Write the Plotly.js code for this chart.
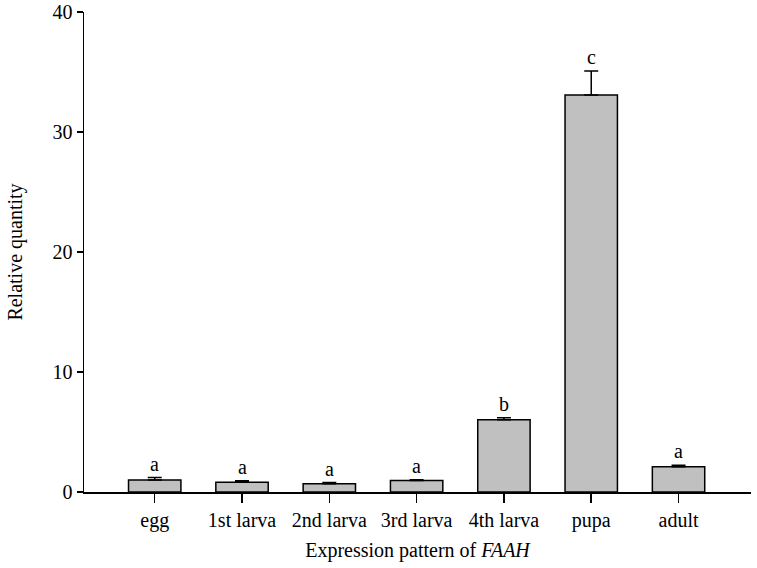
<!DOCTYPE html>
<html><head><meta charset="utf-8">
<script src="https://cdn.plot.ly/plotly-3.0.1.min.js"></script>
<style>body{margin:0;background:#fff}#chart{width:757px;height:568px}</style>
</head><body><div id="chart"></div>
<script>
const categories = ["egg","1st larva","2nd larva","3rd larva","4th larva","pupa","adult"];
const values = [1.0, 0.81, 0.69, 0.95, 6.03, 33.08, 2.11];
const errors = [0.2, 0.13, 0.1, 0.08, 0.16, 2.0, 0.11];
const letters = ["a","a","a","a","b","c","a"];

const font = "Liberation Serif, serif";
const fs = 20;
const trace = {
  type: "bar", x: categories, y: values, width: 0.6,
  marker: {color: "#c0c0c0", line: {color: "#000", width: 1.5}},
  error_y: {type: "data", array: errors, arrayminus: errors.map(() => 0), symmetric: false,
            color: "#000", thickness: 1.5, width: 7},
  hoverinfo: "none"
};
const annotations = categories.map((c, i) => ({
  x: c, y: values[i] + errors[i], text: letters[i], showarrow: false,
  xref: "x", yref: "y", yanchor: "bottom", yshift: 1,
  font: {family: font, size: fs, color: "#000"}
}));
const layout = {
  width: 757, height: 568,
  margin: {l: 84, r: 6, t: 12, b: 76},
  paper_bgcolor: "#fff", plot_bgcolor: "#fff",
  showlegend: false, bargap: 0.4,
  font: {family: font, size: fs, color: "#000"},
  xaxis: {
    type: "category", range: [-0.81, 6.83],
    showline: true, linecolor: "#000", linewidth: 1.5,
    ticks: "outside", ticklen: 9, tickwidth: 1.5, tickcolor: "#000",
    showgrid: false, zeroline: false,
    tickfont: {family: font, size: fs, color: "#000"},
    title: {text: "Expression pattern of <i>FAAH</i>", font: {family: font, size: fs, color: "#000"}, standoff: 12}
  },
  yaxis: {
    range: [0, 40], tickvals: [0, 10, 20, 30, 40],
    showline: true, linecolor: "#000", linewidth: 1.5,
    ticks: "outside", ticklen: 6, tickwidth: 1.5, tickcolor: "#000",
    showgrid: false, zeroline: false,
    tickfont: {family: font, size: fs, color: "#000"},
    title: {text: "Relative quantity", font: {family: font, size: fs, color: "#000"}, standoff: 24}
  },
  annotations: annotations
};
Plotly.newPlot("chart", [trace], layout, {displayModeBar: false, staticPlot: true});
</script></body></html>
